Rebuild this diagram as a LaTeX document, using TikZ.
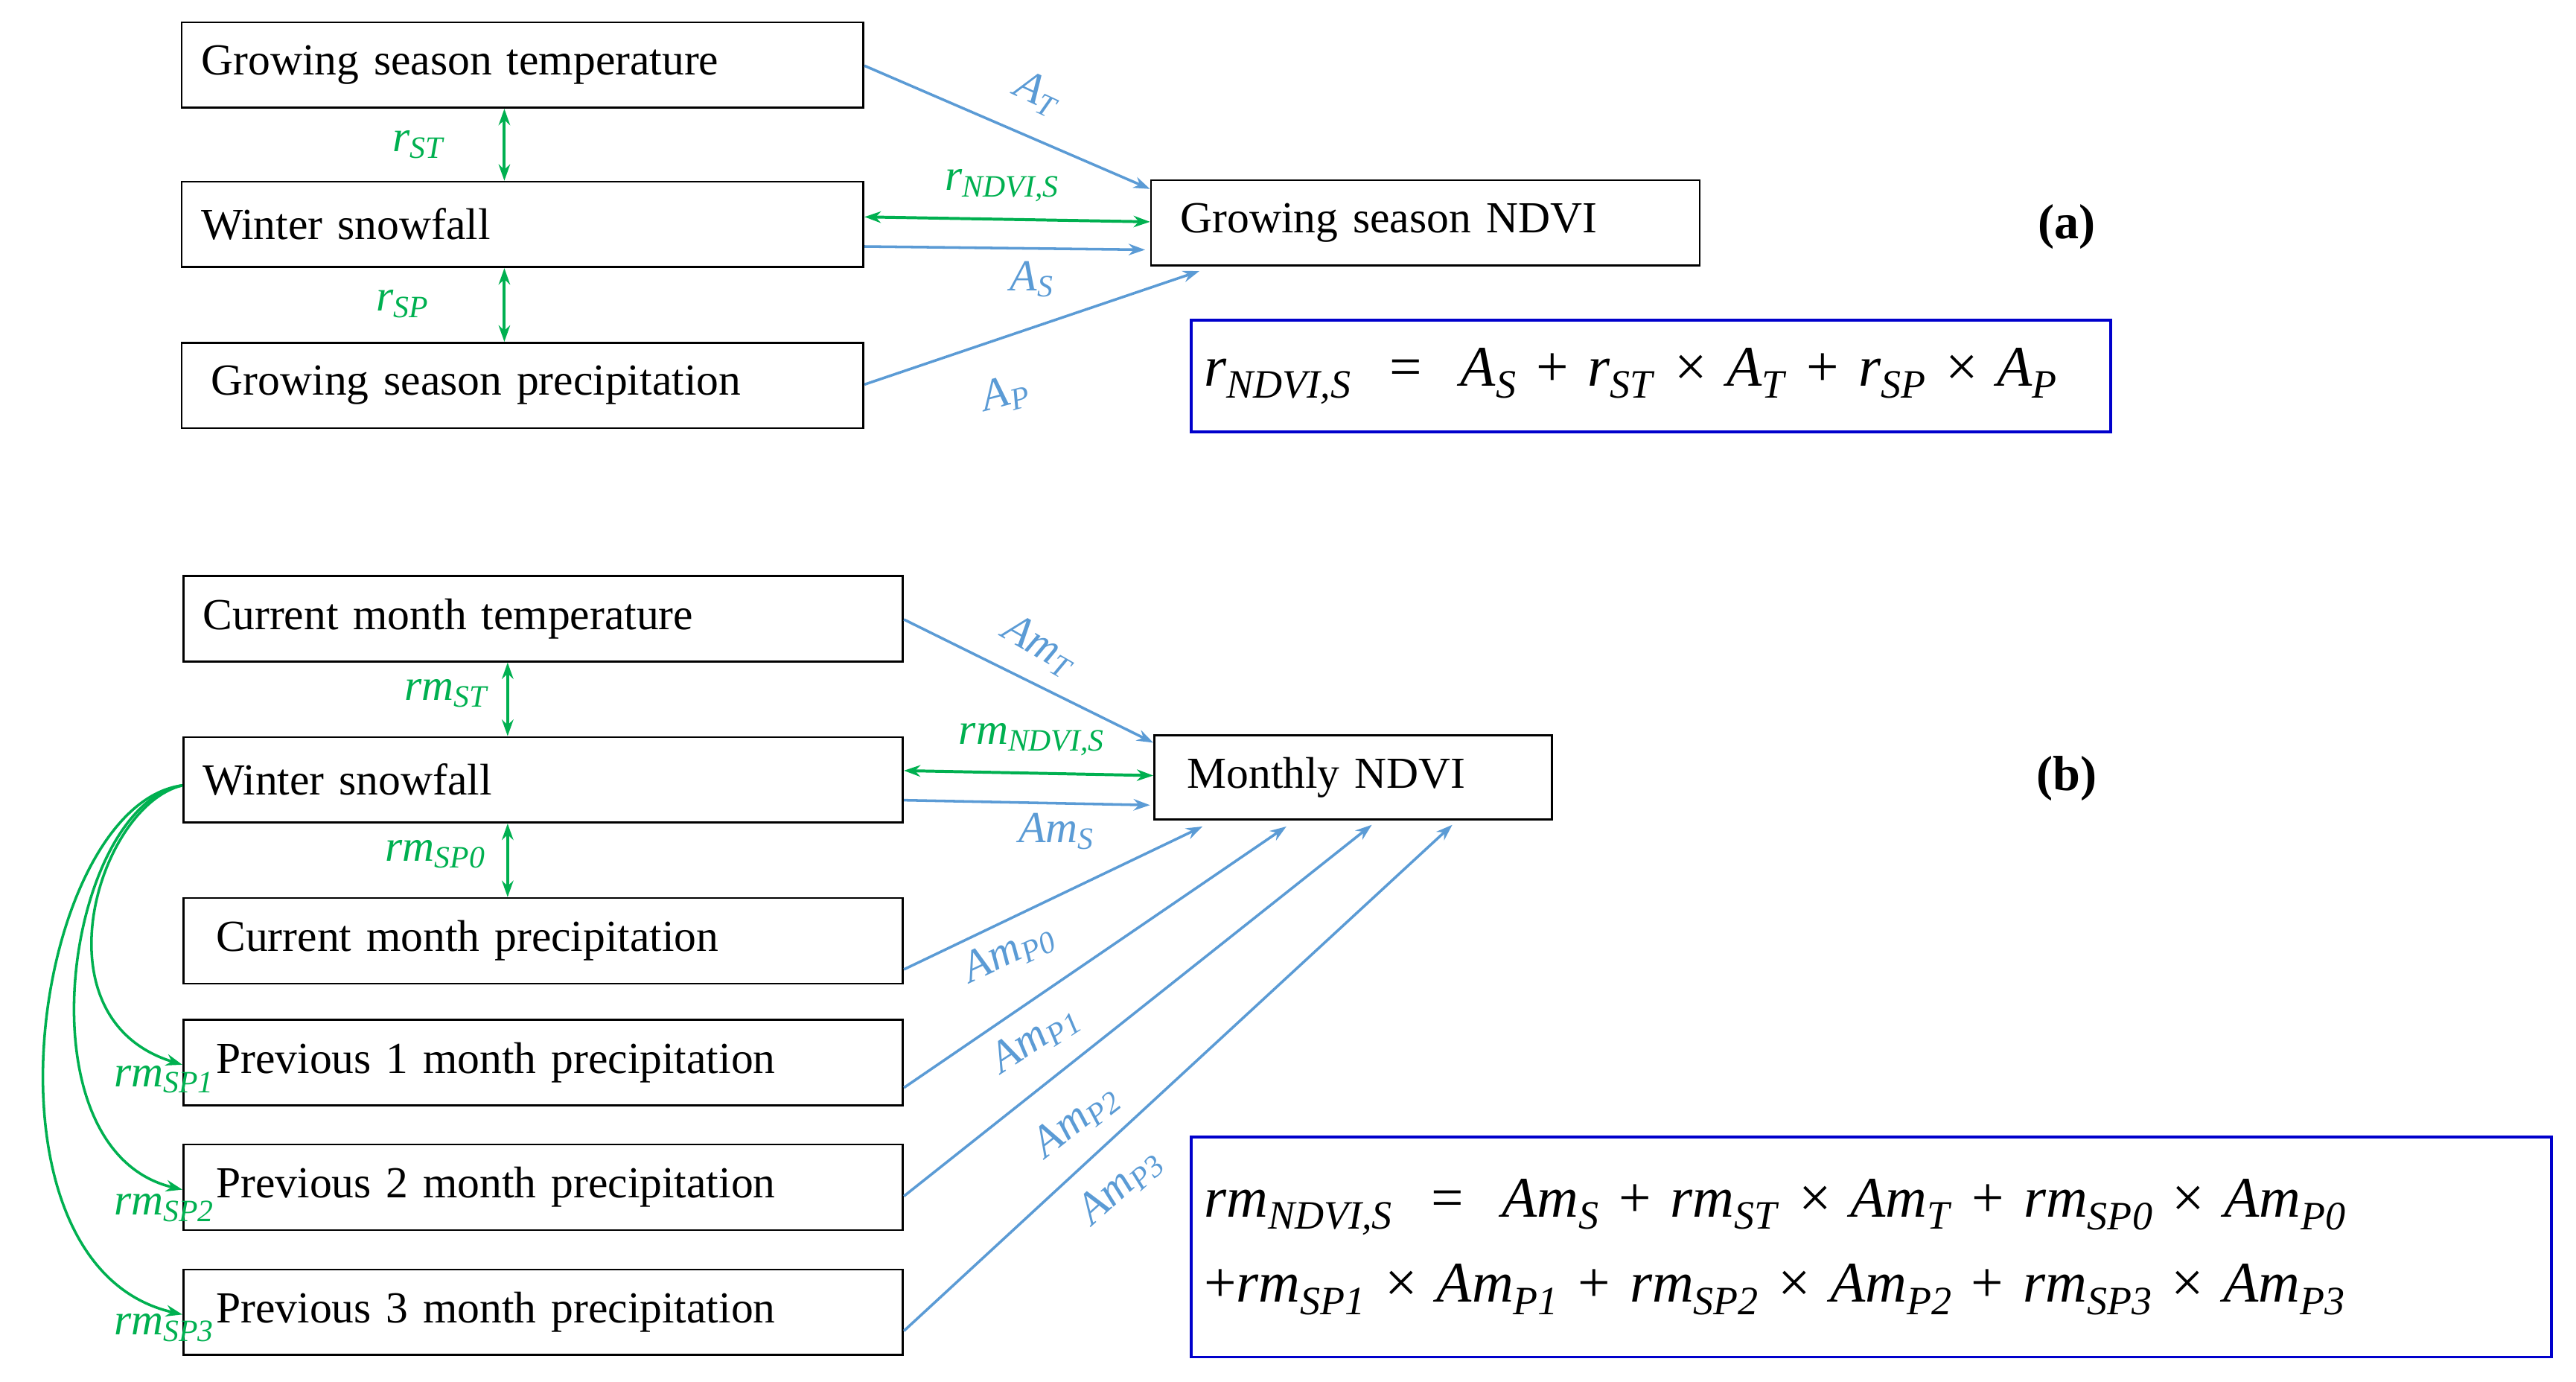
\documentclass[tikz,border=0pt]{standalone}
\usepackage{fontspec}
\setmainfont{Liberation Serif}
\usetikzlibrary{arrows.meta}
\definecolor{bl}{RGB}{91,155,213}
\definecolor{gr}{RGB}{0,176,80}
\newcommand\vs[2]{\textit{#1}\textsubscript{\textit{#2}}}
\begin{document}
\begin{tikzpicture}[x=1pt,y=-1pt,
 box/.style={draw,line width=1.2pt,anchor=north west,inner ysep=0pt,align=left,font=\fontsize{27}{30}\selectfont},
 ba/.style={draw=bl,line width=1.6pt,-{Stealth[length=10pt,width=7pt]}},
 ga/.style={draw=gr,line width=1.8pt,{Stealth[length=10pt,width=7pt]}-{Stealth[length=10pt,width=7pt]}},
 gc/.style={draw=gr,line width=1.6pt,-{Stealth[length=10pt,width=7pt]}},
 bt/.style={text=bl,font=\fontsize{27}{30}\selectfont},
 gt/.style={text=gr,font=\fontsize{27}{30}\selectfont},
 eq/.style={draw=blue!80!black,line width=1.8pt,anchor=north west,align=left,inner xsep=8pt,font=\fontsize{35}{42}\selectfont}]
\useasboundingbox (0,0) rectangle (1568,841);
% (a)
\node[box,minimum height=52,text width=391,inner xsep=12pt] (T) at (110,13) {Growing season temperature};
\node[box,minimum height=52,text width=391,inner xsep=12pt] (S) at (110,110) {Winter snowfall};
\node[box,minimum height=52,text width=379,inner xsep=18pt] (P) at (110,208) {Growing season precipitation};
\node[box,minimum height=52,text width=298,inner xsep=18pt] (N) at (700,109) {Growing season NDVI};
\node[font=\bfseries\fontsize{30}{34}\selectfont] (la) at (1258,138) {(a)};
\node[eq,minimum height=68,text width=544] (ea) at (724,194) {\vs{r}{NDVI,S} \ = \ \vs{A}{S} + \vs{r}{ST} × \vs{A}{T} + \vs{r}{SP} × \vs{A}{P}};
\coordinate (aT) at (700,115); \coordinate (aS) at (697,152); \coordinate (aP) at (730,165);
\draw[ba] (T.east |- 0,40) -- (aT);
\draw[ba] (S.east |- 0,150) -- (aS);
\draw[ba] (P.east |- 0,234) -- (aP);
\draw[ga] (T.south -| 307,0) -- (S.north -| 307,0);
\draw[ga] (S.south -| 307,0) -- (P.north -| 307,0);
\draw[ga] (S.east |- 0,132) -- (N.west |- 0,135);
\node[bt,rotate=-25] (lAT) at (632,57) {\vs{A}{T}};
\node[bt] (lAS) at (628,170) {\vs{A}{S}};
\node[bt,rotate=15] (lAP) at (612,240) {\vs{A}{P}};
\node[gt] (lrST) at (255,88) {\vs{r}{ST}};
\node[gt] (lrSP) at (245,185) {\vs{r}{SP}};
\node[gt] (lrN) at (610,113) {\vs{r}{NDVI,S}};
% (b)
\node[box,minimum height=52,text width=414,inner xsep=12pt] (CT) at (111,350) {Current month temperature};
\node[box,minimum height=52,text width=414,inner xsep=12pt] (WS) at (111,448) {Winter snowfall};
\node[box,minimum height=52,text width=398,inner xsep=20pt] (CP) at (111,546) {Current month precipitation};
\node[box,minimum height=52,text width=398,inner xsep=20pt] (P1) at (111,620) {Previous 1 month precipitation};
\node[box,minimum height=52,text width=398,inner xsep=20pt] (P2) at (111,696) {Previous 2 month precipitation};
\node[box,minimum height=52,text width=398,inner xsep=20pt] (P3) at (111,772) {Previous 3 month precipitation};
\node[box,minimum height=51,text width=202,inner xsep=20pt] (MN) at (702,447) {Monthly NDVI};
\node[font=\bfseries\fontsize{30}{34}\selectfont] (lb) at (1258,474) {(b)};
\node[eq,minimum height=134,text width=812] (eb) at (724,691) {\vs{rm}{NDVI,S} \ = \ \vs{Am}{S} + \vs{rm}{ST} × \vs{Am}{T} + \vs{rm}{SP0} × \vs{Am}{P0}\\[10pt]+\vs{rm}{SP1} × \vs{Am}{P1} + \vs{rm}{SP2} × \vs{Am}{P2} + \vs{rm}{SP3} × \vs{Am}{P3}};
\coordinate (bT) at (702,452); \coordinate (bS) at (700,490);
\coordinate (b0) at (732,503); \coordinate (b1) at (783,503); \coordinate (b2) at (835,502); \coordinate (b3) at (884,502);
\draw[ba] (CT.east |- 0,377) -- (bT);
\draw[ba] (WS.east |- 0,487) -- (bS);
\draw[ba] (CP.east |- 0,590) -- (b0);
\draw[ba] (P1.east |- 0,662) -- (b1);
\draw[ba] (P2.east |- 0,728) -- (b2);
\draw[ba] (P3.east |- 0,810) -- (b3);
\draw[ga] (CT.south -| 309,0) -- (WS.north -| 309,0);
\draw[ga] (WS.south -| 309,0) -- (CP.north -| 309,0);
\draw[ga] (WS.east |- 0,469) -- (MN.west |- 0,472);
\coordinate (wl) at (111,478);
\draw[gc] (wl) .. controls (60,490) and (20,620) .. (P1.west |- 0,648);
\draw[gc] (wl) .. controls (40,490) and (10,700) .. (P2.west |- 0,724);
\draw[gc] (wl) .. controls (20,490) and (-20,770) .. (P3.west |- 0,800);
\node[bt,rotate=-30] (lT) at (633,393) {\vs{Am}{T}};
\node[bt] (lS) at (643,506) {\vs{Am}{S}};
\node[bt,rotate=25] (l0) at (614,580) {\vs{Am}{P0}};
\node[bt,rotate=33] (l1) at (630,632) {\vs{Am}{P1}};
\node[bt,rotate=38] (l2) at (655,682) {\vs{Am}{P2}};
\node[bt,rotate=42] (l3) at (682,722) {\vs{Am}{P3}};
\node[gt] (gST) at (272,422) {\vs{rm}{ST}};
\node[gt] (g0) at (265,520) {\vs{rm}{SP0}};
\node[gt] (gN) at (628,450) {\vs{rm}{NDVI,S}};
\node[gt] (g1) at (100,657) {\vs{rm}{SP1}};
\node[gt] (g2) at (100,735) {\vs{rm}{SP2}};
\node[gt] (g3) at (100,808) {\vs{rm}{SP3}};
\end{tikzpicture}
\end{document}
